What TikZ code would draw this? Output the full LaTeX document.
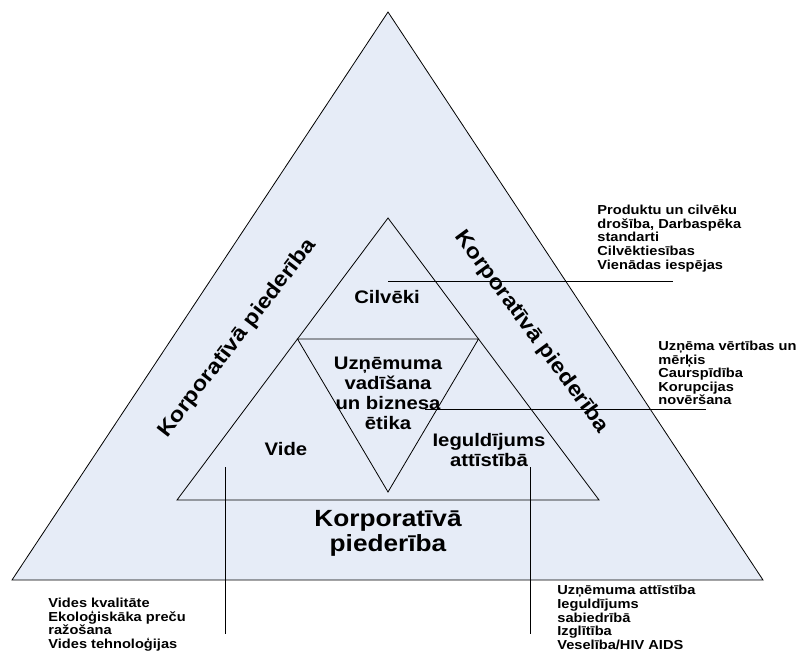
\documentclass[tikz,border=0pt]{standalone}
\usepackage{fontspec}
\setmainfont[FakeStretch=1.12]{Liberation Sans}
\usetikzlibrary{calc}
\definecolor{triback}{RGB}{230,236,247}

\tikzset{
  note/.style={font=\fontsize{13.1}{13.7}\selectfont\bfseries, align=left, anchor=west, inner sep=0pt},
  field/.style={font=\fontsize{18.2}{20}\selectfont\bfseries, align=center, inner sep=0pt},
  bigfield/.style={font=\fontsize{23.5}{25.5}\selectfont\bfseries, align=center, inner sep=0pt},
  side/.style={font=\fontsize{21.2}{24}\selectfont\bfseries, inner sep=0pt}
}

\begin{document}
\begin{tikzpicture}[x=1bp,y=-1bp,line width=0.8bp]
\useasboundingbox (0,0) rectangle (797,654);
% outer and inner triangles
\coordinate (o1) at (388,12);
\coordinate (o2) at (12,580);
\coordinate (o3) at (763,580);
\filldraw [fill=triback] (o1) -- (o2) -- (o3) -- cycle;
\coordinate (i1) at (388,218);
\coordinate (i2) at (177,500);
\coordinate (i3) at (599,500);
\draw (i1) -- (i2) -- (i3) -- cycle;
\coordinate (m1) at ($(i1)!0.429!(i2)$);
\coordinate (m2) at ($(i1)!0.429!(i3)$);
\coordinate (tip) at (388,492);
\draw (m1) -- (m2) -- (tip) -- cycle;
% leaders
\coordinate (c1) at (388,281);
\coordinate (c2) at (673,281);
\draw (c1) -- (c2);
\coordinate (e1) at (425,409);
\coordinate (e2) at (706,409);
\draw (e1) -- (e2);
\coordinate (v1) at (225,467);
\coordinate (v2) at (225,634);
\draw (v1) -- (v2);
\coordinate (w1) at (530,467);
\coordinate (w2) at (530,634);
\draw (w1) -- (w2);
% texts inside
\node [field] (cilv) at (387,297) {Cilvēki};
\node [field] (ethics) at (388,393) {Uzņēmuma\\vadīšana\\un biznesa\\ētika};
\node [field] (vide) at (286,449) {Vide};
\node [field] (invest) at (489,450) {Ieguldījums\\attīstībā};
\node [bigfield] (own) at (388,533.5) {Korporatīvā\\piederība};
\node [side, rotate=52.3] (ownl) at (237.5,338.5) {Korporatīvā piederība};
\node [side, rotate=-53.6] (ownr) at (531.5,332) {Korporatīvā piederība};
% notes outside
\node [note] (nppl) at (597,238.5) {Produktu un cilvēku\\drošība, Darbaspēka\\standarti\\Cilvēktiesības\\Vienādas iespējas};
\node [note] (nval) at (658,373) {Uzņēma vērtības un\\mērķis\\Caurspīdība\\Korupcijas\\novēršana};
\node [note] (nenv) at (48,624.5) {Vides kvalitāte\\Ekoloģiskāka preču\\ražošana\\Vides tehnoloģijas};
\node [note] (ndev) at (557,617.5) {Uzņēmuma attīstība\\Ieguldījums\\sabiedrībā\\Izglītība\\Veselība/HIV AIDS};
\end{tikzpicture}
\end{document}
